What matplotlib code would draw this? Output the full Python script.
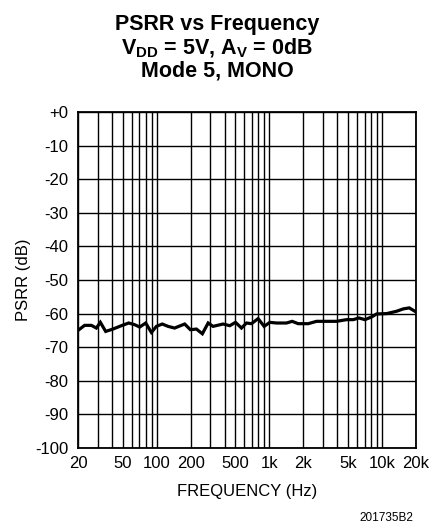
import matplotlib
matplotlib.use('Agg')
import matplotlib.pyplot as plt
from matplotlib.ticker import FixedLocator, NullFormatter

plt.rcParams['font.family'] = ['Liberation Sans', 'DejaVu Sans']
plt.rcParams['mathtext.fontset'] = 'custom'
plt.rcParams['mathtext.rm'] = 'Liberation Sans'
plt.rcParams['mathtext.bf'] = 'Liberation Sans:bold'

# PSRR curve
freq = [20, 22.9, 26.3, 29.1, 31.6, 35.2, 40.9, 48.5, 56.4, 63.7, 70.6, 79.8,
        89.6, 99.3, 112, 126, 144, 177, 199, 225, 254, 286, 316, 388, 445,
        500, 565, 626, 693, 794, 898, 1009, 1156, 1419, 1592, 1801, 2210,
        2620, 3216, 3944, 4840, 5546, 6228, 7042, 8070, 8942, 10968, 13460,
        15428, 17440, 20000]
psrr = [-65, -63.5, -63.5, -64.3, -62.6, -65.3, -64.6, -63.6, -62.8, -63.3,
        -64, -62.8, -65.6, -63.8, -63.1, -63.8, -64.3, -63.1, -64.8, -64.6,
        -66, -62.8, -63.8, -63.1, -63.6, -62.6, -64.3, -62.8, -63, -61.5,
        -63.8, -62.6, -62.8, -62.8, -62.3, -63, -63, -62.3, -62.3, -62.3,
        -61.8, -61.8, -61.3, -61.8, -61, -60.1, -60, -59.3, -58.6, -58.3,
        -59.5]

x_ticks = [20, 50, 100, 200, 500, 1000, 2000, 5000, 10000, 20000]
x_labels = ['20', '50', '100', '200', '500', '1k', '2k', '5k', '10k', '20k']
y_ticks = list(range(-100, 1, 10))
y_labels = ['+0' if v == 0 else str(v) for v in y_ticks]

fig = plt.figure(figsize=(4.34, 5.29), dpi=100)
ax = fig.add_axes([0.1797, 0.1531, 0.7788, 0.6352])

ax.plot(freq, psrr, color='black', lw=2.3, solid_joinstyle='miter')

ax.set_xscale('log')
ax.set_xlim(20, 20000)
ax.set_ylim(-100, 0)

minor = [m * d for d in (10, 100, 1000, 10000) for m in range(2, 10)
         if 20 < m * d < 20000] + [100, 1000, 10000]
ax.xaxis.set_major_locator(FixedLocator(x_ticks))
ax.set_xticklabels(x_labels)
ax.xaxis.set_minor_locator(FixedLocator(minor))
ax.xaxis.set_minor_formatter(NullFormatter())
ax.set_yticks(y_ticks)
ax.set_yticklabels(y_labels)

ax.grid(True, which='both', axis='x', color='black', lw=1.0)
ax.grid(True, which='major', axis='y', color='black', lw=1.0)
ax.tick_params(which='both', length=0, labelsize=12)
ax.tick_params(axis='x', pad=6)
ax.tick_params(axis='y', pad=7)
for s in ax.spines.values():
    s.set_linewidth(1.3)

ax.set_xlabel('FREQUENCY (Hz)', fontsize=12, labelpad=9)
ax.set_ylabel('PSRR (dB)', fontsize=12, labelpad=3)

fig.text(0.5, 0.953, 'PSRR vs Frequency', ha='center', va='center',
         fontsize=15.5, fontweight='bold')
fig.text(0.5, 0.909, r'V$_{\mathbf{DD}}$ = 5V, A$_{\mathbf{V}}$ = 0dB',
         ha='center', va='center', fontsize=15.5, fontweight='bold')
fig.text(0.5, 0.866, 'Mode 5, MONO', ha='center', va='center',
         fontsize=15.5, fontweight='bold')
fig.text(0.952, 0.02, '201735B2', ha='right', va='center', fontsize=8.5)

fig.savefig('out.png', dpi=100)
